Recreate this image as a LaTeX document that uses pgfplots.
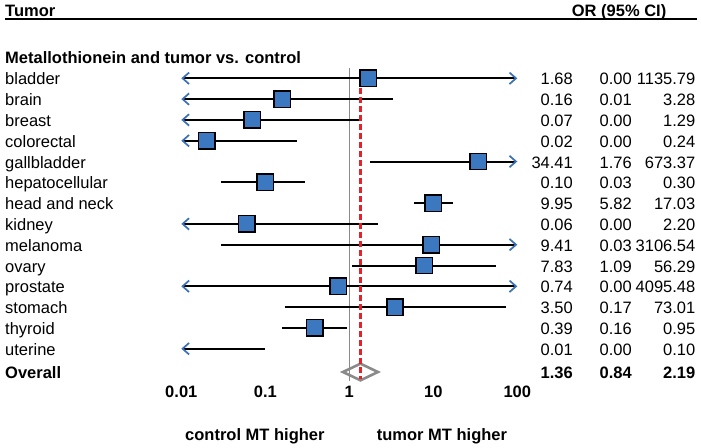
\documentclass[border=0pt]{standalone}
\usepackage{pgfplots}
\pgfplotsset{compat=1.18}
\usepackage{fontspec}
\setmainfont{Liberation Sans}
\usetikzlibrary{arrows.meta}
\definecolor{sqblue}{HTML}{3B78C0}
\definecolor{arrblue}{HTML}{3A70B8}
\definecolor{dashred}{HTML}{E32229}
\definecolor{diagray}{HTML}{8A8A8A}
\tikzset{
  >={Straight Barb[length=6.5pt,width=11.5pt,line width=1.7pt,color=arrblue]},
  ci/.style={black, line width=2pt},
  nm/.style={anchor=base west, inner sep=0pt, yshift=-6.5pt},
  nu/.style={anchor=base east, inner sep=0pt, yshift=-6.5pt},
}
\newcommand\frow[5]{%
  \node[nm] at ({rel axis cs:-0.5247,0}|-{axis cs:1,#1}) {#2};
  \node[nu] at ({rel axis cs:1.1658,0}|-{axis cs:1,#1}) {#3};
  \node[nu] at ({rel axis cs:1.3414,0}|-{axis cs:1,#1}) {#4};
  \node[nu] at ({rel axis cs:1.5304,0}|-{axis cs:1,#1}) {#5};
}
\begin{document}
\begin{tikzpicture}[font=\fontsize{16.5}{19}\selectfont]
\useasboundingbox (0pt,0pt) rectangle (701pt,447pt);
\begin{axis}[
  at={(181.3pt,67.1pt)}, anchor=south west,
  scale only axis, width=336pt, height=312pt,
  xmode=log, xmin=0.01, xmax=100,
  ymin=0.5, ymax=15.5, y dir=reverse,
  axis line style={draw=none},
  tick style={draw=none},
  ytick=\empty,
  xtick={0.01,0.1,1,10,100},
  minor xtick={},
  xticklabels={\textbf{0.01},\textbf{0.1},\textbf{1},\textbf{10},\textbf{100}},
  major tick length=0pt,
  xticklabel style={anchor=base, yshift=-17.4pt, inner sep=0pt, font=\fontsize{16.5}{19}\selectfont},
  clip=false,
]
% reference line at OR = 1
\addplot[diagray, line width=1.3pt] coordinates {(1,0.5) (1,15.55)};
% confidence intervals
\addplot[ci, <->] coordinates {(0.01,1) (100,1)};
\addplot[ci, <-] coordinates {(0.01,2) (3.28,2)};
\addplot[ci, <-] coordinates {(0.01,3) (1.29,3)};
\addplot[ci, <-] coordinates {(0.01,4) (0.24,4)};
\addplot[ci, ->] coordinates {(1.76,5) (100,5)};
\addplot[ci] coordinates {(0.03,6) (0.30,6)};
\addplot[ci] coordinates {(5.82,7) (17.03,7)};
\addplot[ci, <-] coordinates {(0.01,8) (2.20,8)};
\addplot[ci, ->] coordinates {(0.03,9) (100,9)};
\addplot[ci] coordinates {(1.09,10) (56.29,10)};
\addplot[ci, <->] coordinates {(0.01,11) (100,11)};
\addplot[ci] coordinates {(0.17,12) (73.01,12)};
\addplot[ci] coordinates {(0.16,13) (0.95,13)};
\addplot[ci, <-] coordinates {(0.01,14) (0.10,14)};
% pooled estimate diamond
\addplot[diagray, line width=2.6pt, line join=miter] coordinates {(0.84,15.12) (1.36,14.72) (2.19,15.12) (1.36,15.52) (0.84,15.12)} -- cycle;
% pooled OR dashed line
\addplot[dashred, line width=2.3pt, dash pattern=on 6pt off 3pt] coordinates {(1.36,1.48) (1.36,15.45)};
% point estimates
\addplot[only marks, mark=square*, mark size=8.2pt, mark options={fill=sqblue, draw=black, line width=1.5pt}]
  coordinates {(1.68,1) (0.16,2) (0.07,3) (0.02,4) (34.41,5) (0.10,6) (9.95,7) (0.06,8) (9.41,9) (7.83,10) (0.74,11) (3.50,12) (0.39,13)};
% row texts
\frow{1}{bladder}{1.68}{0.00}{1135.79}
\frow{2}{brain}{0.16}{0.01}{3.28}
\frow{3}{breast}{0.07}{0.00}{1.29}
\frow{4}{colorectal}{0.02}{0.00}{0.24}
\frow{5}{gallbladder}{34.41}{1.76}{673.37}
\frow{6}{hepatocellular}{0.10}{0.03}{0.30}
\frow{7}{head and neck}{9.95}{5.82}{17.03}
\frow{8}{kidney}{0.06}{0.00}{2.20}
\frow{9}{melanoma}{9.41}{0.03}{3106.54}
\frow{10}{ovary}{7.83}{1.09}{56.29}
\frow{11}{prostate}{0.74}{0.00}{4095.48}
\frow{12}{stomach}{3.50}{0.17}{73.01}
\frow{13}{thyroid}{0.39}{0.16}{0.95}
\frow{14}{uterine}{0.01}{0.00}{0.10}
\frow{15.12}{\textbf{Overall}}{\textbf{1.36}}{\textbf{0.84}}{\textbf{2.19}}
\end{axis}
% headers
\node[anchor=base west, inner sep=0pt] at (5pt,430.3pt) {\textbf{Tumor}};
\node[anchor=base west, inner sep=0pt] at (571.7pt,430.3pt) {\textbf{OR (95\% CI)}};
\draw[black, line width=1.4pt] (5pt,428pt) -- (696.7pt,428pt);
\node[anchor=base west, inner sep=0pt] at (5pt,383.7pt) {\textbf{Metallothionein and tumor vs. control}};
\node[anchor=base west, inner sep=0pt] at (185pt,7pt) {\textbf{control MT higher}};
\node[anchor=base west, inner sep=0pt] at (376.7pt,7pt) {\textbf{tumor MT higher}};
\end{tikzpicture}
\end{document}
